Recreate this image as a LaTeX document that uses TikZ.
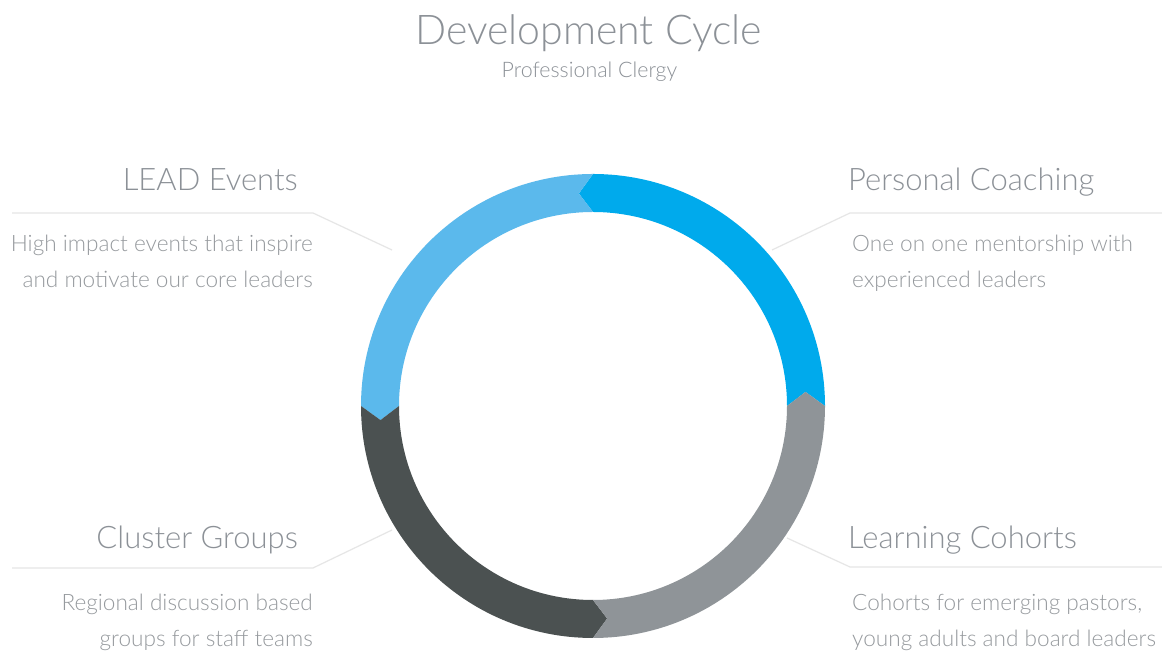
\documentclass[tikz,border=0pt]{standalone}
\usepackage{fontspec}
\setmainfont{Lato Light}
\definecolor{cBlue}{RGB}{0,170,236}
\definecolor{cLight}{RGB}{91,185,236}
\definecolor{cGray}{RGB}{143,148,152}
\definecolor{cDark}{RGB}{75,81,81}
\definecolor{cHead}{RGB}{140,145,151}
\definecolor{cBody}{RGB}{150,154,158}
\definecolor{cRule}{RGB}{230,230,230}
\tikzset{
  titletext/.style={inner sep=0pt,text=cHead,font=\fontsize{41}{48}\selectfont},
  subtext/.style={inner sep=0pt,text=cHead,font=\fontsize{21.4}{25}\selectfont},
  headtext/.style={inner sep=0pt,text=cHead,font=\fontsize{31}{37}\selectfont},
  bodytext/.style={inner sep=0pt,text=cBody,font=\fontsize{22.6}{27}\selectfont},
  leader/.style={draw=cRule,line width=1.2pt},
}
\newcommand{\ringseg}[3]{%
  \fill[#3] (#1:232) arc[start angle=#1,end angle=#2,radius=232]
    -- ({#2+3.8}:213) -- (#2:194)
    arc[start angle=#2,end angle=#1,radius=194]
    -- ({#1+3.8}:213) -- cycle;}
\begin{document}
\begin{tikzpicture}[x=1pt,y=1pt]
\useasboundingbox (0,0) rectangle (1162,652);
\fill[white] (0,0) rectangle (1162,652);
% title
\node[titletext,anchor=base] (title) at (588.5,607) {Development Cycle};
\node[subtext,anchor=base] (subtitle) at (589.5,574) {Professional Clergy};
% ring
\begin{scope}[shift={(593,246)}]
  \ringseg{0}{90}{cBlue}
  \ringseg{90}{180}{cLight}
  \ringseg{180}{270}{cDark}
  \ringseg{270}{360}{cGray}
\end{scope}
% leader lines
\coordinate (tlA) at (12,439); \coordinate (tlB) at (313,439); \coordinate (tlC) at (392,402);
\coordinate (trA) at (1162,439); \coordinate (trB) at (850,439); \coordinate (trC) at (772,402);
\coordinate (blA) at (12,84); \coordinate (blB) at (313,84); \coordinate (blC) at (392,122);
\coordinate (brA) at (1162,85); \coordinate (brB) at (850,85); \coordinate (brC) at (787,114);
\draw[leader] (tlA) -- (tlB) -- (tlC);
\draw[leader] (trA) -- (trB) -- (trC);
\draw[leader] (blA) -- (blB) -- (blC);
\draw[leader] (brA) -- (brB) -- (brC);
% headings
\node[headtext,anchor=base east] (lead) at (298,461.3) {LEAD Events};
\node[headtext,anchor=base west] (coach) at (848,461.3) {Personal Coaching};
\node[headtext,anchor=base east] (cluster) at (298,103) {Cluster Groups};
\node[headtext,anchor=base west] (cohort) at (848,103) {Learning Cohorts};
% bodies
\node[bodytext,anchor=base east] (lead1) at (313,400) {High impact events that inspire};
\node[bodytext,anchor=base east] (lead2) at (313,364) {and motivate our core leaders};
\node[bodytext,anchor=base west] (coach1) at (852,400) {One on one mentorship with};
\node[bodytext,anchor=base west] (coach2) at (852,364) {experienced leaders};
\node[bodytext,anchor=base east] (cluster1) at (313,41) {Regional discussion based};
\node[bodytext,anchor=base east] (cluster2) at (313,5) {groups for staff teams};
\node[bodytext,anchor=base west] (cohort1) at (852,41) {Cohorts for emerging pastors,};
\node[bodytext,anchor=base west] (cohort2) at (852,5) {young adults and board leaders};
\end{tikzpicture}
\end{document}
